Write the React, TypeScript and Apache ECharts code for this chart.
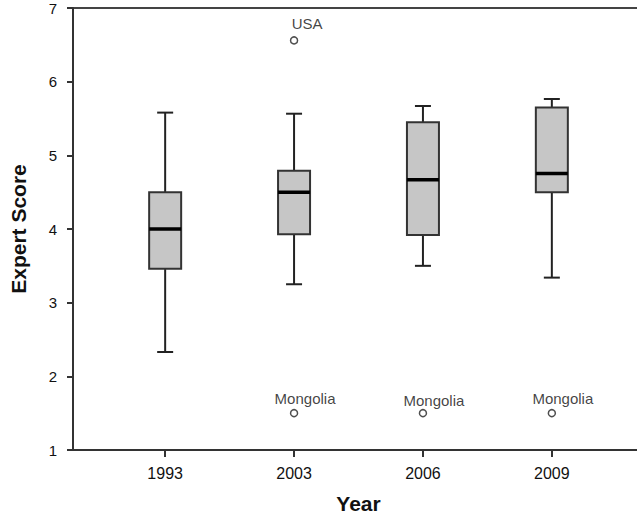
import React, { useEffect, useRef } from "react";
import * as echarts from "echarts";

const years = ["1993", "2003", "2006", "2009"];
const positions = [1, 2, 3, 4];
const whiskerLow = [2.33, 3.25, 3.5, 3.34];
const q1 = [3.46, 3.93, 3.92, 4.5];
const median = [4.0, 4.5, 4.67, 4.755];
const q3 = [4.5, 4.79, 5.45, 5.65];
const whiskerHigh = [5.58, 5.565, 5.67, 5.765];

const outlierPos = [2, 2, 3, 4];
const outlierValues = [6.56, 1.5, 1.5, 1.5];
const outlierNames = ["USA", "Mongolia", "Mongolia", "Mongolia"];

const yTicks = [1, 2, 3, 4, 5, 6, 7];

const FONT = "'Liberation Sans', Arial, sans-serif";

export default function App() {
  const ref = useRef<HTMLDivElement>(null);
  useEffect(() => {
    if (!ref.current) return;
    const chart = echarts.init(ref.current, null, { renderer: "svg" });
    const boxData = positions.map((p, i) => [p, whiskerLow[i], q1[i], median[i], q3[i], whiskerHigh[i]]);
    const outData = outlierPos.map((p, i) => ({
      value: [p, outlierValues[i]],
      name: outlierNames[i],
      label: outlierNames[i] === "USA" ? { offset: [13, -2] } : i === 2 ? { offset: [11, 2] } : { offset: [11, 0] },
    }));
    chart.setOption({
      animation: false,
      backgroundColor: "#fff",
      grid: { left: 72, top: 8, width: 572, height: 442, show: true, borderColor: "#444", borderWidth: 2, backgroundColor: "transparent" },
      xAxis: {
        type: "value",
        min: 0.285,
        max: 4.715,
        name: "Year",
        nameLocation: "middle",
        nameGap: 43,
        nameTextStyle: { fontFamily: FONT, fontSize: 21, fontWeight: "bold", color: "#111" },
        axisLine: { show: true, lineStyle: { color: "#333", width: 2 } },
        axisTick: { show: true, customValues: positions, length: 7, lineStyle: { color: "#333", width: 2 } },
        axisLabel: {
          customValues: positions,
          formatter: (v: number) => years[positions.indexOf(Math.round(v))] ?? "",
          fontFamily: FONT,
          fontSize: 16,
          color: "#111",
          margin: 15,
        },
        splitLine: { show: false },
      },
      yAxis: {
        type: "value",
        min: yTicks[0],
        max: yTicks[yTicks.length - 1],
        interval: 1,
        name: "Expert Score",
        nameLocation: "middle",
        nameGap: 44,
        nameTextStyle: { fontFamily: FONT, fontSize: 21, fontWeight: "bold", color: "#111" },
        axisLine: { show: true, lineStyle: { color: "#333", width: 2 } },
        axisTick: { show: true, length: 6, lineStyle: { color: "#333", width: 2 } },
        axisLabel: { fontFamily: FONT, fontSize: 15, color: "#111", margin: 16 },
        splitLine: { show: false },
      },
      series: [
        {
          type: "custom",
          data: boxData,
          encode: { x: 0, y: [1, 2, 3, 4, 5] },
          renderItem: (params: any, api: any) => {
            const x = api.value(0);
            const pLow = api.coord([x, api.value(1)]);
            const pQ1 = api.coord([x, api.value(2)]);
            const pMed = api.coord([x, api.value(3)]);
            const pQ3 = api.coord([x, api.value(4)]);
            const pHigh = api.coord([x, api.value(5)]);
            const cx = pMed[0];
            const hw = 16;
            const cap = 8;
            const stroke = { stroke: "#222", lineWidth: 2 };
            return {
              type: "group",
              children: [
                { type: "line", shape: { x1: cx, y1: pHigh[1], x2: cx, y2: pQ3[1] }, style: stroke },
                { type: "line", shape: { x1: cx, y1: pQ1[1], x2: cx, y2: pLow[1] }, style: stroke },
                { type: "line", shape: { x1: cx - cap, y1: pHigh[1], x2: cx + cap, y2: pHigh[1] }, style: stroke },
                { type: "line", shape: { x1: cx - cap, y1: pLow[1], x2: cx + cap, y2: pLow[1] }, style: stroke },
                {
                  type: "rect",
                  shape: { x: cx - hw, y: pQ3[1], width: hw * 2, height: pQ1[1] - pQ3[1] },
                  style: { fill: "#c6c6c6", stroke: "#333", lineWidth: 2 },
                },
                { type: "line", shape: { x1: cx - hw, y1: pMed[1], x2: cx + hw, y2: pMed[1] }, style: { stroke: "#000", lineWidth: 3.5 } },
              ],
            };
          },
        },
        {
          type: "scatter",
          data: outData,
          symbol: "circle",
          symbolSize: 7,
          itemStyle: { color: "#fff", borderColor: "#222", borderWidth: 1.5 },
          label: {
            show: true,
            formatter: "{b}",
            position: "top",
            distance: 3,
            fontFamily: FONT,
            fontSize: 15,
            color: "#111",
          },
        },
      ],
    });
    return () => chart.dispose();
  }, []);
  return (
    <div style={{ position: "fixed", left: 0, top: 0, width: 637, height: 519, overflow: "hidden", background: "#fff" }}>
      <div ref={ref} style={{ width: 660, height: 519 }} />
    </div>
  );
}
